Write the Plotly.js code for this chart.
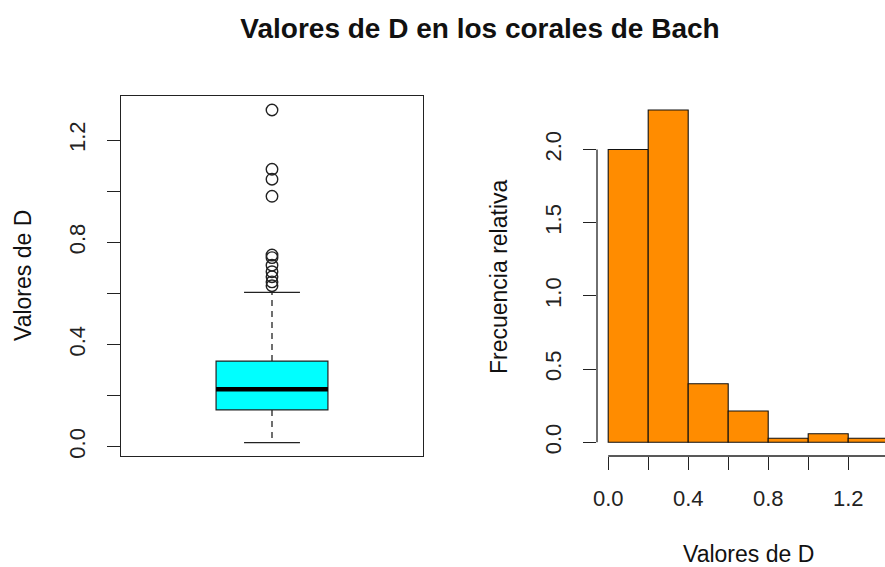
<!DOCTYPE html>
<html>
<head>
<meta charset="utf-8">
<script src="https://cdn.plot.ly/plotly-3.0.1.min.js"></script>
<style>
  html, body { margin: 0; padding: 0; background: #ffffff; }
  #chart { width: 885px; height: 567px; }
</style>
</head>
<body>
<div id="chart"></div>
<script>
// Boxplot summary of D (quartiles, whisker ends) and the points beyond the whiskers
const boxQ1 = 0.144;
const boxMedian = 0.225;
const boxQ3 = 0.335;
const whiskerLow = 0.016;
const whiskerHigh = 0.604;
const outliers = [0.63, 0.645, 0.665, 0.685, 0.71, 0.74, 0.75, 0.98, 1.047, 1.086, 1.318];

// Histogram of D: bin edges and relative frequency (density) per bin
const binEdges = [0.0, 0.2, 0.4, 0.6, 0.8, 1.0, 1.2, 1.4];
const density = [2.0, 2.27, 0.40, 0.214, 0.028, 0.058, 0.028];

// Tick labels
const boxTickVals = [0.0, 0.2, 0.4, 0.6, 0.8, 1.0, 1.2];
const boxTickText = ['0.0', '', '0.4', '', '0.8', '', '1.2'];
const histYTickVals = [0.0, 0.5, 1.0, 1.5, 2.0];
const histYTickText = ['0.0', '0.5', '1.0', '1.5', '2.0'];
const histXTickVals = [0.0, 0.2, 0.4, 0.6, 0.8, 1.0, 1.2, 1.4];
const histXTickText = ['0.0', '', '0.4', '', '0.8', '', '1.2', ''];

const FONT = 'Liberation Sans, Arial, Helvetica, sans-serif';
const INK = '#222222';
const W = 885, H = 567;

const boxX = 1;          // category position of the single box
const boxHalf = 0.2;     // half width of the box
const capHalf = 0.1;     // half width of the whisker caps

const binCenters = binEdges.slice(0, -1).map((e, i) => (e + binEdges[i + 1]) / 2);
const binWidths = binEdges.slice(0, -1).map((e, i) => binEdges[i + 1] - e);

const traces = [
  {
    type: 'box', xaxis: 'x', yaxis: 'y',
    x: [boxX], q1: [boxQ1], median: [boxMedian], q3: [boxQ3],
    lowerfence: [boxQ1], upperfence: [boxQ3],
    width: 2 * boxHalf, whiskerwidth: 0,
    fillcolor: '#00FFFF',
    line: { color: INK, width: 1.2 },
    boxpoints: false, hoverinfo: 'skip', showlegend: false
  },
  {
    // thick median bar
    type: 'scatter', mode: 'lines', xaxis: 'x', yaxis: 'y',
    x: [boxX - boxHalf, boxX + boxHalf], y: [boxMedian, boxMedian],
    line: { color: '#000000', width: 4.5 }, hoverinfo: 'skip', showlegend: false
  },
  {
    // dashed whiskers
    type: 'scatter', mode: 'lines', xaxis: 'x', yaxis: 'y',
    x: [boxX, boxX, null, boxX, boxX],
    y: [boxQ3, whiskerHigh, null, boxQ1, whiskerLow],
    line: { color: INK, width: 1.3, dash: '6px,5px' }, hoverinfo: 'skip', showlegend: false
  },
  {
    // whisker caps
    type: 'scatter', mode: 'lines', xaxis: 'x', yaxis: 'y',
    x: [boxX - capHalf, boxX + capHalf, null, boxX - capHalf, boxX + capHalf],
    y: [whiskerHigh, whiskerHigh, null, whiskerLow, whiskerLow],
    line: { color: INK, width: 1.3 }, hoverinfo: 'skip', showlegend: false
  },
  {
    type: 'scatter', mode: 'markers', xaxis: 'x', yaxis: 'y',
    x: outliers.map(() => boxX), y: outliers,
    marker: { symbol: 'circle-open', size: 11.5, color: INK, line: { width: 1.4, color: INK } },
    hoverinfo: 'skip', showlegend: false
  },
  {
    type: 'bar', xaxis: 'x2', yaxis: 'y2',
    x: binCenters, y: density, width: binWidths,
    marker: { color: '#FF8C00', line: { color: '#111111', width: 1.1 } },
    hoverinfo: 'skip', showlegend: false
  }
];

const plotTop = 96, plotBottom = 456;
const yDomain = [(H - plotBottom) / H, (H - plotTop) / H];

const tickFont = { family: FONT, size: 22, color: INK };
const titleFont = { family: FONT, size: 23, color: '#111111' };

const layout = {
  width: W, height: H,
  margin: { l: 0, r: 0, t: 0, b: 0 },
  paper_bgcolor: '#ffffff', plot_bgcolor: '#ffffff',
  showlegend: false,
  bargap: 0,
  title: {
    text: '<b>Valores de D en los corales de Bach</b>',
    font: { family: FONT, size: 28, color: '#111111' },
    x: 480 / W, xanchor: 'center', y: 1 - 28 / H, yanchor: 'middle', yref: 'container'
  },
  xaxis: {
    domain: [121 / W, 423 / W], range: [0.46, 1.54],
    showticklabels: false, ticks: '', showgrid: false, zeroline: false,
    showline: true, mirror: true, linecolor: INK, linewidth: 1.3
  },
  yaxis: {
    domain: yDomain, anchor: 'x',
    range: [-0.0364, 1.3726],
    tickmode: 'array', tickvals: boxTickVals, ticktext: boxTickText,
    ticks: 'outside', ticklen: 13, tickwidth: 1.2, tickcolor: INK,
    tickangle: -90, tickfont: tickFont, ticklabelstandoff: 13,
    showgrid: false, zeroline: false,
    showline: true, mirror: true, linecolor: INK, linewidth: 1.3
  },
  xaxis2: {
    domain: [597 / W, 1], anchor: 'y2',
    range: [-0.056, -0.056 + 288 / 200],
    tickmode: 'array', tickvals: histXTickVals, ticktext: histXTickText,
    ticks: 'outside', ticklen: 13, tickwidth: 1.2, tickcolor: INK,
    tickfont: tickFont, ticklabelstandoff: 10,
    showgrid: false, zeroline: false, showline: false
  },
  yaxis2: {
    domain: yDomain, anchor: 'x2',
    range: [-(plotBottom - 442.3) / 146.4, (442.3 - plotTop) / 146.4],
    tickmode: 'array', tickvals: histYTickVals, ticktext: histYTickText,
    ticks: 'outside', ticklen: 13, tickwidth: 1.2, tickcolor: INK,
    tickangle: -90, tickfont: tickFont, ticklabelstandoff: 13,
    showgrid: false, zeroline: false, showline: false
  },
  shapes: [
    // histogram axis lines spanning first to last tick
    {
      type: 'line', xref: 'x2 domain', yref: 'y2',
      x0: 0, x1: 0, y0: histYTickVals[0], y1: histYTickVals[histYTickVals.length - 1],
      line: { color: INK, width: 1.3 }
    },
    {
      type: 'line', xref: 'x2', yref: 'y2 domain',
      x0: histXTickVals[0], x1: histXTickVals[histXTickVals.length - 1], y0: 0, y1: 0,
      line: { color: INK, width: 1.3 }
    }
  ],
  annotations: [
    {
      text: 'Valores de D', xref: 'paper', yref: 'paper',
      x: 23 / W, y: (H - 276) / H, xanchor: 'center', yanchor: 'middle',
      textangle: -90, showarrow: false, font: titleFont
    },
    {
      text: 'Frecuencia relativa', xref: 'paper', yref: 'paper',
      x: 499 / W, y: (H - 276) / H, xanchor: 'center', yanchor: 'middle',
      textangle: -90, showarrow: false, font: titleFont
    },
    {
      text: 'Valores de D', xref: 'paper', yref: 'paper',
      x: 748 / W, y: (H - 554) / H, xanchor: 'center', yanchor: 'middle',
      showarrow: false, font: titleFont
    }
  ]
};

Plotly.newPlot('chart', traces, layout, { staticPlot: true, displayModeBar: false });
</script>
</body>
</html>
